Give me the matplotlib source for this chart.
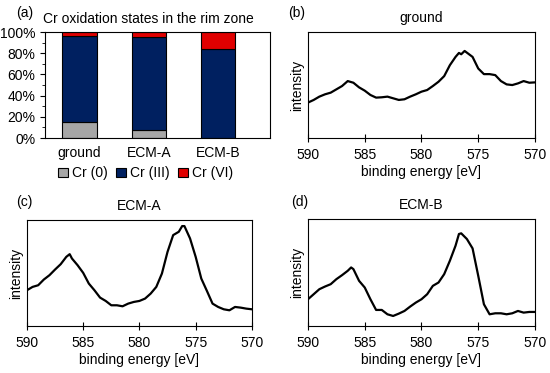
#!/usr/bin/env python3

import numpy as np
import matplotlib.pyplot as plt

plt.rcParams['font.family'] = ['Liberation Sans', 'DejaVu Sans']
plt.rcParams['font.size'] = 10

# (a) oxidation state fractions [%]
samples = ['ground', 'ECM-A', 'ECM-B']
cr0 = [15, 8, 0]
cr3 = [81, 87, 84]
cr6 = [4, 5, 16]
states = ['Cr (0)', 'Cr (III)', 'Cr (VI)']
state_colors = ['#a6a6a6', '#002060', '#e00000']

# spectra, binding energy [eV] vs intensity [a.u.]
e_ground = [590, 589.5, 589, 588.5, 588, 587.5, 587, 586.5, 586, 585.5, 585,
            584.5, 584, 583.5, 583, 582.5, 582, 581.5, 581, 580.5, 580, 579.5,
            579, 578.5, 578, 577.5, 577, 576.7, 576.5, 576.2, 575.5, 575,
            574.5, 574, 573.5, 573, 572.5, 572, 571.5, 571, 570.5, 570]
i_ground = [107, 115, 125, 132, 137, 147, 157, 172, 167, 153, 143, 130, 122,
            123, 125, 120, 115, 117, 125, 132, 140, 145, 157, 170, 187, 220,
            245, 257, 253, 263, 245, 210, 193, 193, 190, 172, 162, 160, 165,
            172, 167, 168]

e_a = [590, 589.5, 589, 588.5, 588, 587.5, 587, 586.5, 586.2, 586, 585.5, 585,
       584.5, 584, 583.5, 583, 582.5, 582, 581.5, 581, 580.5, 580, 579.5, 579,
       578.5, 578, 577.5, 577, 576.5, 576.2, 576, 575.5, 575, 574.5, 574,
       573.5, 573, 572.5, 572, 571.5, 571, 570.5, 570]
i_a = [107, 117, 122, 139, 152, 169, 185, 207, 215, 202, 182, 159, 127, 107,
       85, 75, 62, 62, 59, 67, 72, 75, 82, 97, 117, 157, 222, 272, 282, 299,
       299, 262, 207, 142, 105, 67, 57, 50, 47, 57, 55, 52, 50]

e_b = [590, 589.5, 589, 588.5, 588, 587.5, 587, 586.5, 586.2, 586, 585.5, 585,
       584.5, 584, 583.5, 583, 582.5, 582, 581.5, 581, 580.5, 580, 579.5, 579,
       578.5, 578, 577.5, 577, 576.7, 576.5, 576, 575.5, 575, 574.5, 574,
       573.5, 573, 572.5, 572, 571.5, 571, 570.5, 570]
i_b = [80, 95, 110, 118, 125, 140, 152, 165, 175, 170, 135, 115, 80, 48, 48,
       35, 30, 37, 45, 58, 70, 80, 95, 120, 130, 155, 195, 240, 275, 277, 260,
       232, 150, 65, 35, 38, 38, 35, 38, 45, 40, 42, 42]

fig = plt.figure(figsize=(5.5, 3.73), dpi=100)

# (a) stacked bars
ax = fig.add_axes([0.0818, 0.630, 0.409, 0.284])
x = np.arange(len(samples))
bottom = np.zeros(len(samples))
for vals, lab, col in zip([cr0, cr3, cr6], states, state_colors):
    ax.bar(x, vals, 0.5, bottom=bottom, color=col, edgecolor='black',
           linewidth=0.8, label=lab)
    bottom += np.array(vals)
ax.set_xlim(-0.5, 2.75)
ax.set_ylim(0, 100)
ax.set_yticks(range(0, 101, 20))
ax.set_yticklabels(['%d%%' % v for v in range(0, 101, 20)])
ax.set_yticks(range(0, 101, 10), minor=True)
ax.set_xticks(x)
ax.set_xticklabels(samples)
ax.tick_params(axis='x', length=0, pad=6)
fig.text(148 / 550, 1 - 23 / 373, 'Cr oxidation states in the rim zone',
         ha='center', va='baseline')
fig.legend(loc='center', bbox_to_anchor=(0.265, 0.535), ncol=3,
           frameon=False, handlelength=0.7, handleheight=0.7,
           handletextpad=0.3, columnspacing=0.6, fontsize=10)

# spectra
spectra = [
    ([0.56, 0.630, 0.4127, 0.284], e_ground, i_ground, 'ground', 320),
    ([0.049, 0.126, 0.409, 0.284], e_a, i_a, 'ECM-A', 317),
    ([0.56, 0.126, 0.4127, 0.287], e_b, i_b, 'ECM-B', 320),
]
for rect, e, inten, title, top in spectra:
    sx = fig.add_axes(rect)
    sx.plot(e, inten, color='black', linewidth=1.6)
    sx.set_xlim(590, 570)
    sx.set_ylim(0, top)
    sx.set_xticks([590, 585, 580, 575, 570])
    sx.set_yticks([])
    sx.tick_params(axis='x', direction='inout', length=6, pad=4)
    sx.set_xlabel('binding energy [eV]', labelpad=2)
    sx.set_ylabel('intensity', labelpad=3)
    sx.set_title(title, fontsize=10, pad=7, y=1.0)

fig.text(16 / 550, 1 - 13 / 373, '(a)', va='center', ha='left')
fig.text(288 / 550, 1 - 13 / 373, '(b)', va='center', ha='left')
fig.text(16 / 550, 1 - 202 / 373, '(c)', va='center', ha='left')
fig.text(291 / 550, 1 - 202 / 373, '(d)', va='center', ha='left')

fig.savefig('out.png', dpi=100)
